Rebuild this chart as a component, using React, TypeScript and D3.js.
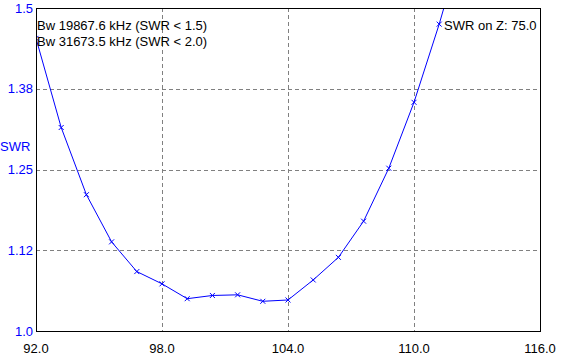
import * as d3 from 'd3'

const W = 566
const H = 361
const M = { top: 8, right: 26, bottom: 30, left: 36 }

const freqs = [92.0, 93.2, 94.4, 95.6, 96.8, 98.0, 99.2, 100.4, 101.6, 102.8, 104.0, 105.2, 106.4, 107.6, 108.8, 110.0, 111.2, 112.4]
const swr = [1.453, 1.315, 1.211, 1.138, 1.092, 1.073, 1.050, 1.055, 1.056, 1.046, 1.048, 1.079, 1.114, 1.170, 1.252, 1.354, 1.475, 1.61]

const xTicks = [92, 98, 104, 110, 116]
const xTickLabels = ['92.0', '98.0', '104.0', '110.0', '116.0']
const yTicks = [1.0, 1.125, 1.25, 1.375, 1.5]
const yTickLabels = ['1.0', '1.12', '1.25', '1.38', '1.5']

const infoLines = ['Bw 19867.6 kHz (SWR < 1.5)', 'Bw 31673.5 kHz (SWR < 2.0)']
const zLabel = 'SWR on Z: 75.0'

const FONT = '"Liberation Sans", Arial, sans-serif'

export default function App() {
  const x = d3.scaleLinear().domain([92, 116]).range([M.left, W - M.right])
  const y = d3.scaleLinear().domain([1.0, 1.5]).range([H - M.bottom, M.top])
  const pts = freqs.map((f, i) => ({ f, v: swr[i] }))

  const line = d3.line<{ f: number; v: number }>()
    .x(d => x(d.f))
    .y(d => y(d.v))

  const x0 = x(92), x1 = x(116), y0 = y(1.0), y1 = y(1.5)

  return (
    <svg width={W} height={H} style={{ position: 'fixed', left: 0, top: 0, background: '#fff' }}
      fontFamily={FONT}>
      <defs>
        <clipPath id="plot">
          <rect x={x0} y={y1} width={x1 - x0} height={y0 - y1} />
        </clipPath>
      </defs>
      <rect width={W} height={H} fill="#fff" />

      {/* grid */}
      {xTicks.slice(1, -1).map(t => (
        <line key={'gx' + t} x1={Math.round(x(t)) + 0.5} x2={Math.round(x(t)) + 0.5} y1={y1} y2={y0}
          stroke="#808080" strokeDasharray="4,3" />
      ))}
      {yTicks.slice(1, -1).map(t => (
        <line key={'gy' + t} y1={Math.round(y(t)) + 0.5} y2={Math.round(y(t)) + 0.5} x1={x0} x2={x1}
          stroke="#808080" strokeDasharray="4,3" />
      ))}

      {/* curve */}
      <g clipPath="url(#plot)">
        <path d={line(pts) ?? ''} fill="none" stroke="#0000ff" strokeWidth={1} />
        {pts.map((d, i) => {
          const cx = x(d.f), cy = y(d.v), s = 2.5
          return (
            <path key={i} d={`M${cx - s},${cy - s}L${cx + s},${cy + s}M${cx - s},${cy + s}L${cx + s},${cy - s}`}
              stroke="#0000ff" strokeWidth={1} fill="none" />
          )
        })}
      </g>

      {/* frame */}
      <rect x={x0 + 0.5} y={y1 + 0.5} width={x1 - x0} height={y0 - y1} fill="none" stroke="#000" strokeWidth={1} />

      {/* y axis labels */}
      {yTicks.map((t, i) => (
        <text key={'yl' + t} x={x0 - 3} y={y(t)} dy="0.35em" textAnchor="end" fontSize={13} fill="#0000ff">
          {yTickLabels[i]}
        </text>
      ))}
      <text x={0} y={146} dy="0.35em" fontSize={13} fill="#0000ff">SWR</text>

      {/* x axis labels */}
      {xTicks.map((t, i) => (
        <text key={'xl' + t} x={x(t)} y={348} dy="0.35em" textAnchor="middle" fontSize={13} fill="#000">
          {xTickLabels[i]}
        </text>
      ))}

      {/* annotations */}
      {infoLines.map((s, i) => (
        <text key={'info' + i} x={x0 + 1} y={25 + i * 16} dy="0.35em" fontSize={13} fill="#000">{s}</text>
      ))}
      <text x={444} y={25} dy="0.35em" fontSize={13} fill="#000">{zLabel}</text>
    </svg>
  )
}
